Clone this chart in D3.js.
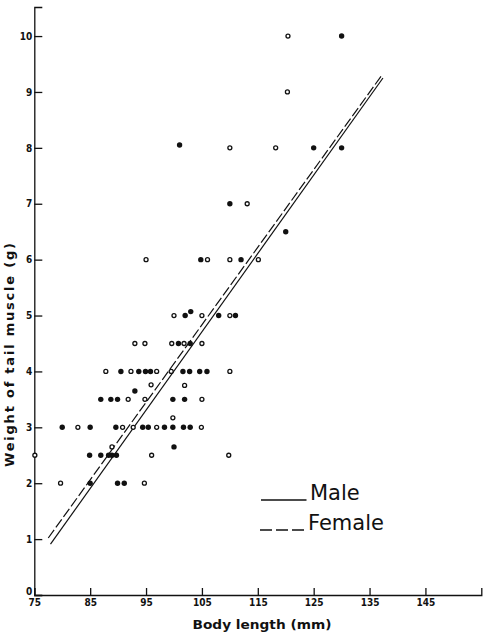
<!DOCTYPE html>
<html>
<head>
<meta charset="utf-8">
<script src="https://cdn.jsdelivr.net/npm/d3@7"></script>
<style>
  html, body { margin: 0; padding: 0; background: #fff; }
  svg { display: block; }
  .tick text { font-family: "DejaVu Sans Condensed", "DejaVu Sans", sans-serif; font-stretch: condensed; font-weight: bold; fill: #111; }
</style>
</head>
<body>
<svg id="chart" width="501" height="633"></svg>
<script>
// ---- data ----
const xTicks = [75, 85, 95, 105, 115, 125, 135, 145];
const yTicks = [0, 1, 2, 3, 4, 5, 6, 7, 8, 9, 10];
const xDomain = [75, 155];
const yDomain = [0, 10.52];

// filled circles [body length, weight]
const filledPoints = [
  [130, 10],
  [101, 8.05], [125, 8], [130, 8],
  [110, 7],
  [120, 6.5],
  [104.8, 6], [112, 6],
  [102, 5], [103, 5.07], [108, 5], [111, 5],
  [100.8, 4.5], [102.9, 4.5],
  [90.5, 4], [93.7, 4], [94.9, 4], [95.8, 4], [101.6, 4], [102.8, 4], [104.6, 4], [105.9, 4],
  [93.0, 3.65],
  [86.9, 3.5], [88.7, 3.5], [89.9, 3.5], [99.8, 3.5], [101.9, 3.5],
  [80, 3], [85, 3], [89.6, 3], [94.4, 3], [95.4, 3], [98.3, 3], [99.8, 3], [101.7, 3], [102.9, 3],
  [100, 2.65],
  [84.9, 2.5], [86.9, 2.5], [88.3, 2.5], [88.9, 2.5], [89.7, 2.5],
  [85, 2], [89.9, 2], [91.1, 2]
];

// open circles [body length, weight]
const openPoints = [
  [120.4, 10],
  [120.3, 9],
  [110, 8], [118.2, 8],
  [113.1, 7],
  [95, 6], [106, 6], [110, 6], [115.1, 6],
  [100, 5], [105, 5], [110, 5],
  [93, 4.5], [94.8, 4.5], [99.6, 4.5], [101.8, 4.5], [105, 4.5],
  [87.8, 4], [92.3, 4], [96.9, 4], [99.5, 4], [110, 4],
  [95.9, 3.76], [101.9, 3.75],
  [91.8, 3.5], [94.8, 3.5], [105, 3.5],
  [99.8, 3.17],
  [82.8, 3], [90.8, 3], [92.7, 3], [96.9, 3], [104.9, 3],
  [88.9, 2.65],
  [75.1, 2.5], [96.0, 2.5], [109.8, 2.5],
  [79.7, 2], [94.7, 2]
];

// fitted lines (end points)
const maleLine = [[77.9, 0.91], [137.4, 9.25]];
const femaleLine = [[77.5, 1.02], [137.2, 9.3]];

const legendItems = ["Male", "Female"];

// ---- drawing ----
const svg = d3.select("#chart");
const x = d3.scaleLinear().domain(xDomain).range([34.3, 481.3]);
const y = d3.scaleLinear().domain(yDomain).range([595, 7]);
const ink = "#111";

// y axis (ticks inward)
const yAxis = svg.append("g")
  .attr("transform", "translate(34.3,0)")
  .call(d3.axisLeft(y).tickValues(yTicks).tickSizeInner(-8).tickSizeOuter(-8).tickPadding(2).tickFormat(d3.format("d")));
yAxis.selectAll("path, line").attr("stroke", ink).attr("stroke-width", 1.3);
yAxis.selectAll("text").attr("font-size", 10);
// the "0" label sits a little above the x axis in the reference
yAxis.selectAll(".tick text").filter(d => d === 0).attr("y", -4);

// x axis (ticks inward)
const xAxis = svg.append("g")
  .attr("transform", "translate(0,595)")
  .call(d3.axisBottom(x).tickValues(xTicks).tickSizeInner(-7).tickSizeOuter(-7).tickPadding(4).tickFormat(d3.format("d")));
xAxis.selectAll("path, line").attr("stroke", ink).attr("stroke-width", 1.3);
xAxis.selectAll("text").attr("font-size", 10);

// axis titles
svg.append("text")
  .attr("x", 262).attr("y", 629)
  .attr("text-anchor", "middle")
  .attr("font-family", "DejaVu Sans, sans-serif")
  .attr("font-weight", "bold")
  .attr("font-size", 12)
  .attr("textLength", 139)
  .attr("lengthAdjust", "spacingAndGlyphs")
  .attr("fill", ink)
  .text("Body length (mm)");

svg.append("text")
  .attr("transform", "translate(14,355) rotate(-90)")
  .attr("text-anchor", "middle")
  .attr("font-family", "DejaVu Sans, sans-serif")
  .attr("font-weight", "bold")
  .attr("font-size", 13)
  .attr("textLength", 224)
  .attr("lengthAdjust", "spacing")
  .attr("fill", ink)
  .text("Weight of tail muscle (g)");

// regression lines
const lineGen = d3.line().x(d => x(d[0])).y(d => y(d[1]));
svg.append("path").datum(maleLine)
  .attr("d", lineGen).attr("fill", "none").attr("stroke", ink).attr("stroke-width", 1.2);
svg.append("path").datum(femaleLine)
  .attr("d", lineGen).attr("fill", "none").attr("stroke", ink).attr("stroke-width", 1.2)
  .attr("stroke-dasharray", "10,3");

// points
svg.append("g").selectAll("circle").data(filledPoints).join("circle")
  .attr("cx", d => x(d[0])).attr("cy", d => y(d[1])).attr("r", 2.7)
  .attr("fill", ink);
svg.append("g").selectAll("circle").data(openPoints).join("circle")
  .attr("cx", d => x(d[0])).attr("cy", d => y(d[1])).attr("r", 2.0)
  .attr("fill", "#fff").attr("stroke", ink).attr("stroke-width", 1.3);

// legend
const leg = svg.append("g");
legendItems.forEach((name, i) => {
  const ly = 500 + i * 30;
  leg.append("line")
    .attr("x1", 261 - i).attr("x2", 306.5).attr("y1", ly).attr("y2", ly)
    .attr("stroke", ink).attr("stroke-width", 1.6)
    .attr("stroke-dasharray", i === 1 ? "12,4" : null);
  leg.append("text")
    .attr("x", i === 0 ? 310 : 308).attr("y", ly)
    .attr("font-family", "DejaVu Sans, sans-serif")
    .attr("font-size", 21)
    .attr("fill", ink)
    .text(name);
});
</script>
</body>
</html>
